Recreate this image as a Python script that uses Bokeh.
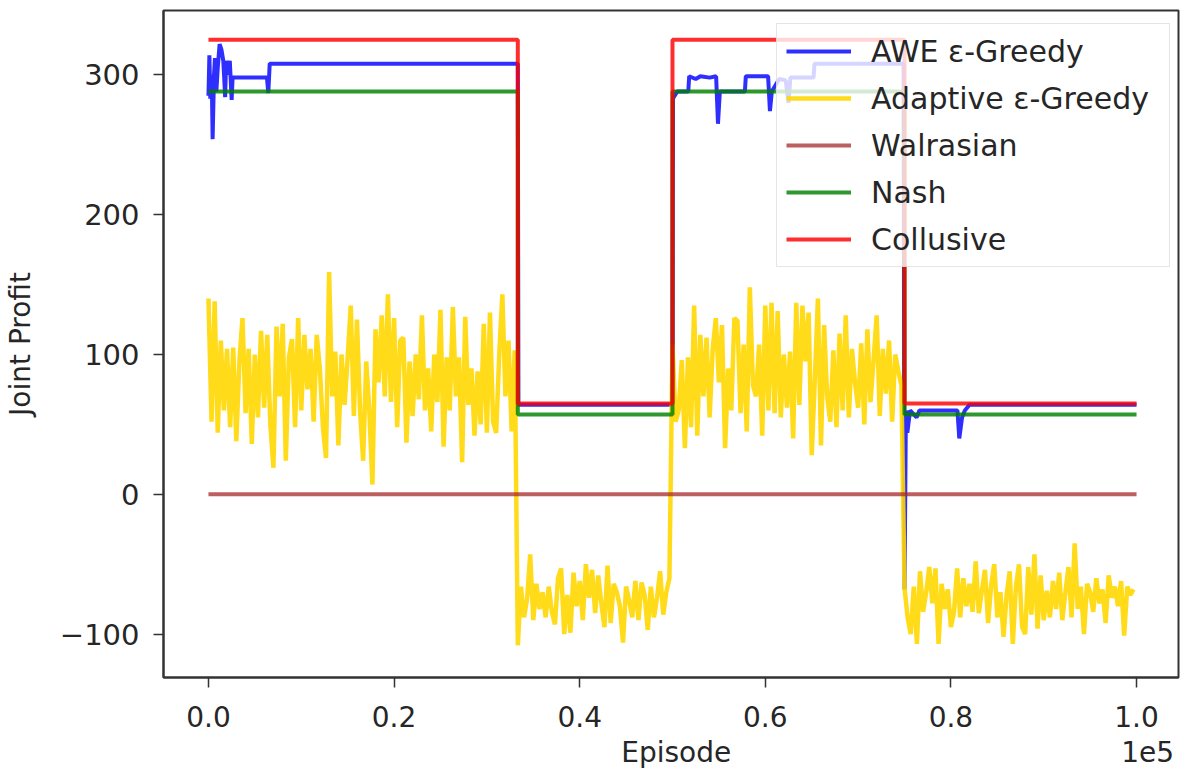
import numpy as np
from bokeh.plotting import figure
from bokeh.models import Range1d, FixedTicker, LinearAxis, Legend, LegendItem
from bokeh.embed import file_html
from bokeh.resources import INLINE

# ---------------- data ----------------
regime_bounds = [0, 33333, 50000, 75000, 100000]
nash_levels = [288, 57, 288, 57]
collusive_levels = [325, 65, 325, 65]
walrasian_level = 0

adaptive_seg1 = [140, 52, 138, 44, 110, 60, 104, 48, 105, 38,
                 95, 126, 58, 104, 36, 100, 55, 117, 62, 114,
                 50, 19, 120, 70, 122, 24, 98, 111, 48, 126,
                 60, 114, 75, 104, 52, 114, 90, 48, 26, 159,
                 70, 102, 35, 100, 64, 98, 135, 56, 125, 60,
                 24, 95, 60, 7, 118, 80, 128, 70, 143, 66,
                 126, 48, 110, 112, 37, 95, 56, 100, 68, 128,
                 60, 90, 45, 100, 66, 132, 34, 98, 60, 134,
                 70, 98, 23, 127, 64, 90, 42, 88, 50, 122,
                 44, 130, 52, 44, 100, 143, 70, 110, 45, 103]
adaptive_seg2 = [-108, -66, -88, -75, -43, -90, -64, -82, -70, -88,
                 -66, -84, -93, -60, -53, -100, -72, -99, -56, -80,
                 -62, -90, -50, -74, -54, -85, -58, -78, -95, -51,
                 -92, -64, -70, -80, -106, -66, -76, -88, -62, -90,
                 -63, -72, -97, -66, -88, -74, -55, -86, -70, -60]
adaptive_seg3 = [107, 52, 60, 96, 33, 98, 48, 135, 42, 114,
                 70, 112, 55, 104, 126, 80, 121, 33, 90, 60,
                 126, 124, 58, 107, 45, 148, 78, 70, 107, 42,
                 135, 60, 137, 58, 131, 55, 100, 62, 102, 40,
                 137, 64, 135, 95, 130, 28, 82, 140, 35, 121,
                 70, 52, 103, 48, 115, 60, 128, 55, 104, 80,
                 62, 108, 50, 118, 66, 96, 128, 56, 104, 72,
                 110, 52, 100, 88, 78]
adaptive_seg4 = [-67, -88, -100, -66, -107, -55, -84, -70, -52, -78,
                 -53, -107, -64, -82, -68, -95, -84, -53, -88, -60,
                 -80, -64, -84, -48, -85, -69, -54, -92, -65, -50,
                 -88, -70, -102, -72, -55, -107, -66, -50, -95, -100,
                 -52, -86, -43, -96, -58, -90, -69, -88, -62, -82,
                 -56, -90, -70, -52, -88, -35, -82, -66, -100, -64,
                 -70, -84, -60, -78, -68, -92, -58, -74, -66, -80,
                 -62, -101, -66, -72, -68]

awe_episode = [0, 100, 200, 350, 450, 600, 700, 850, 1000, 1200,
               1400, 1600, 1800, 1900, 2100, 2300, 2500, 2600, 6300, 6450,
               6600, 33333, 33400, 50000, 50050, 50500, 51700, 51800, 52500, 53000,
               54000, 54700, 54900, 55100, 57800, 57900, 60300, 60500, 60700, 61500,
               62200, 62500, 62700, 65200, 65300, 74900, 75000, 75150, 75300, 75600,
               76300, 76600, 80700, 80900, 81200, 81500, 82000, 100000]
awe_profit = [285, 314, 283, 300, 254, 300, 312, 288, 305, 322,
              318, 310, 284, 310, 300, 310, 282, 298, 298, 287,
              308, 308, 64, 64, 283, 288, 288, 299, 297, 299,
              298, 299, 265, 288, 288, 299, 299, 274, 288, 297,
              296, 280, 298, 298, 308, 308, -68, 60, 44, 60,
              55, 60, 60, 40, 55, 60, 64, 64]

x_tick_values = [0, 20000, 40000, 60000, 80000, 100000]
x_tick_labels = ["0.0", "0.2", "0.4", "0.6", "0.8", "1.0"]
y_tick_values = [-100, 0, 100, 200, 300]
y_tick_labels = ["\u2212100", "0", "100", "200", "300"]
x_title = "Episode"
x_offset_text = "1e5"

# ---------------- derived ----------------
segs = [adaptive_seg1, adaptive_seg2, adaptive_seg3, adaptive_seg4]
ad_x, ad_y = [], []
for k, seg in enumerate(segs):
    ad_x += list(np.linspace(regime_bounds[k], regime_bounds[k + 1], len(seg), endpoint=False))
    ad_y += seg


def step_xy(bounds, levels):
    xs, ys = [], []
    for k, lv in enumerate(levels):
        xs += [bounds[k], bounds[k + 1]]
        ys += [lv, lv]
    return xs, ys


nash_x, nash_y = step_xy(regime_bounds, nash_levels)
col_x, col_y = step_xy(regime_bounds, collusive_levels)
wal_x = [regime_bounds[0], regime_bounds[-1]]
wal_y = [walrasian_level, walrasian_level]

FONT = "DejaVu Sans"
TXT = "#262626"

p = figure(width=1196, height=783, output_backend="svg", toolbar_location=None,
           x_range=Range1d(-4844, 104521), y_range=Range1d(-131, 346))
p.min_border_left = 162
p.min_border_right = 18
p.min_border_top = 10
p.min_border_bottom = 106
p.background_fill_color = "white"
p.border_fill_color = "white"
p.grid.visible = False
p.outline_line_color = "#333333"
p.outline_line_width = 2

LW = 4
AL = 0.82
r_awe = p.line(awe_episode, awe_profit, line_color="blue", line_width=LW, line_alpha=AL)
r_ad = p.line(ad_x, ad_y, line_color="gold", line_width=4.5, line_alpha=0.9)
r_wal = p.line(wal_x, wal_y, line_color="brown", line_width=LW, line_alpha=0.75)
r_nash = p.line(nash_x, nash_y, line_color="green", line_width=LW, line_alpha=AL)
r_col = p.line(col_x, col_y, line_color="red", line_width=LW, line_alpha=AL)

xax = p.xaxis[0]
yax = p.yaxis[0]
for ax in (xax, yax):
    ax.major_tick_out = 10
    ax.major_tick_in = 0
    ax.minor_tick_line_color = None
    ax.major_tick_line_width = 1.5
    ax.major_tick_line_color = "#333333"
    ax.axis_line_color = "#333333"
    ax.axis_line_width = 2
    ax.major_label_text_font = FONT
    ax.major_label_text_color = TXT
    ax.axis_label_text_font = FONT
    ax.axis_label_text_font_size = "28px"
    ax.axis_label_text_font_style = "normal"
    ax.axis_label_text_color = TXT

xax.major_label_text_font_size = "28px"
yax.major_label_text_font_size = "29px"
xax.major_label_standoff = 18
yax.major_label_standoff = 14
xax.ticker = FixedTicker(ticks=x_tick_values)
xax.major_label_overrides = dict(zip(x_tick_values, x_tick_labels))
yax.ticker = FixedTicker(ticks=y_tick_values)
yax.major_label_overrides = dict(zip(y_tick_values, y_tick_labels))
yax.axis_label = "Joint Profit"
yax.axis_label_standoff = 20

# second row under the tick labels: the axis title and the 1e5 offset text
title_positions = [50400, 101200]
title_axis = LinearAxis(ticker=FixedTicker(ticks=title_positions),
                        major_label_overrides=dict(zip(title_positions, [x_title, x_offset_text])))
title_axis.axis_line_color = None
title_axis.major_tick_line_color = None
title_axis.minor_tick_line_color = None
title_axis.major_tick_out = 0
title_axis.major_tick_in = 0
title_axis.major_label_standoff = 6
title_axis.major_label_text_font = FONT
title_axis.major_label_text_font_size = "28px"
title_axis.major_label_text_color = TXT
p.add_layout(title_axis, "below")

legend = Legend(items=[
    LegendItem(label="AWE \u03b5-Greedy", renderers=[r_awe]),
    LegendItem(label="Adaptive \u03b5-Greedy", renderers=[r_ad]),
    LegendItem(label="Walrasian", renderers=[r_wal]),
    LegendItem(label="Nash", renderers=[r_nash]),
    LegendItem(label="Collusive", renderers=[r_col]),
], location=(613, 410))
legend.label_text_font = FONT
legend.label_text_font_size = "30px"
legend.label_text_color = TXT
legend.glyph_width = 65
legend.glyph_height = 36
legend.label_height = 36
legend.label_width = 289
legend.label_standoff = 20
legend.spacing = 11
legend.padding = 9
legend.margin = 0
legend.background_fill_alpha = 0.8
legend.border_line_color = "#cccccc"
legend.border_line_width = 1.5
p.add_layout(legend)

open("out.html", "w").write(file_html(p, INLINE))
